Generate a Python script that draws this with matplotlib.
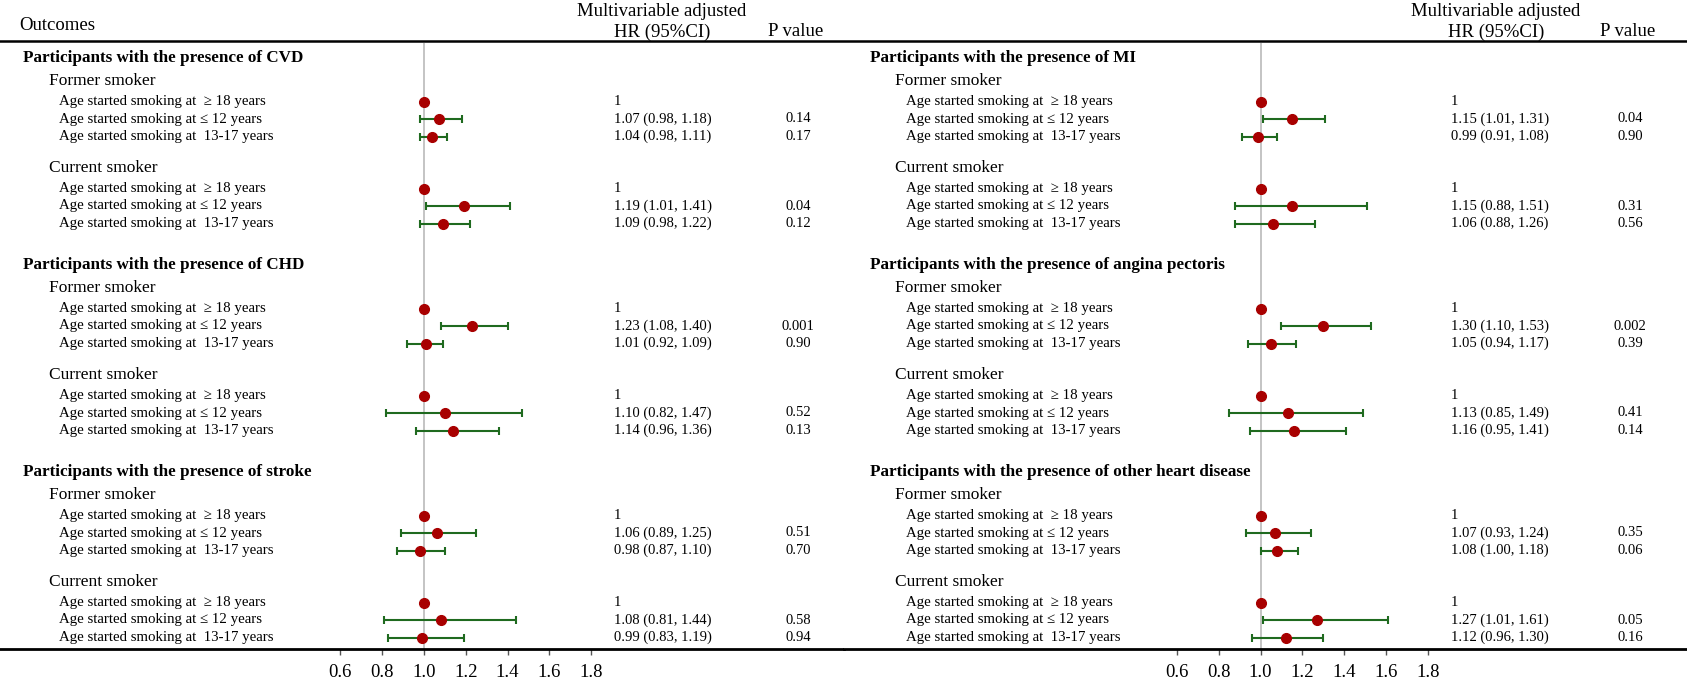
import matplotlib
matplotlib.use("Agg")
import matplotlib.pyplot as plt

plt.rcParams['font.family'] = ['Liberation Serif', 'DejaVu Serif']

# ---- data -------------------------------------------------------------
row_labels = ["Age started smoking at  \u2265 18 years",
              "Age started smoking at \u2264 12 years",
              "Age started smoking at  13-17 years"]
groups = ["Former smoker", "Current smoker"]

left_outcomes = ["CVD", "CHD", "stroke"]
left_hr = [1, 1.07, 1.04, 1, 1.19, 1.09,
           1, 1.23, 1.01, 1, 1.10, 1.14,
           1, 1.06, 0.98, 1, 1.08, 0.99]
left_lo = [None, 0.98, 0.98, None, 1.01, 0.98,
           None, 1.08, 0.92, None, 0.82, 0.96,
           None, 0.89, 0.87, None, 0.81, 0.83]
left_hi = [None, 1.18, 1.11, None, 1.41, 1.22,
           None, 1.40, 1.09, None, 1.47, 1.36,
           None, 1.25, 1.10, None, 1.44, 1.19]
left_p = ["", "0.14", "0.17", "", "0.04", "0.12",
          "", "0.001", "0.90", "", "0.52", "0.13",
          "", "0.51", "0.70", "", "0.58", "0.94"]

right_outcomes = ["MI", "angina pectoris", "other heart disease"]
right_hr = [1, 1.15, 0.99, 1, 1.15, 1.06,
            1, 1.30, 1.05, 1, 1.13, 1.16,
            1, 1.07, 1.08, 1, 1.27, 1.12]
right_lo = [None, 1.01, 0.91, None, 0.88, 0.88,
            None, 1.10, 0.94, None, 0.85, 0.95,
            None, 0.93, 1.00, None, 1.01, 0.96]
right_hi = [None, 1.31, 1.08, None, 1.51, 1.26,
            None, 1.53, 1.17, None, 1.49, 1.41,
            None, 1.24, 1.18, None, 1.61, 1.30]
right_p = ["", "0.04", "0.90", "", "0.31", "0.56",
           "", "0.002", "0.39", "", "0.41", "0.14",
           "", "0.35", "0.06", "", "0.05", "0.16"]

xticks = [0.6, 0.8, 1.0, 1.2, 1.4, 1.6, 1.8]

# ---- layout (pixels) --------------------------------------------------
W, H = 1687, 686
axis_y = 649
px_per_unit = 209
steps = [23, 20.5, 17.5, 17.5, 31.5, 20.5, 17.5, 17.5, 41.5]

panels = [
    dict(x0=0, x1=843.5, ref=424, head=23, grp=49, row=59, hr=614, p=798,
         mv=662, outcomes=left_outcomes, est=left_hr, lo=left_lo, hi=left_hi,
         pv=left_p, title="Outcomes"),
    dict(x0=843.5, x1=1687, ref=1260.5, head=870, grp=895, row=906, hr=1451, p=1630,
         mv=1496, outcomes=right_outcomes, est=right_hr, lo=right_lo, hi=right_hi,
         pv=right_p, title=None),
]

red = "#a80000"
green = "#1f6a1f"

fig = plt.figure(figsize=(W / 100, H / 100), dpi=100)

for pn in panels:
    ax = fig.add_axes([pn["x0"] / W, (H - axis_y) / H,
                       (pn["x1"] - pn["x0"]) / W, axis_y / H])

    def to_x(px, ref=pn["ref"]):
        return 1 + (px - ref) / px_per_unit

    ax.set_xlim(to_x(pn["x0"]), to_x(pn["x1"]))
    ax.set_ylim(axis_y, 0)
    for s in ["top", "left", "right"]:
        ax.spines[s].set_visible(False)
    ax.spines["bottom"].set_linewidth(2)
    ax.set_yticks([])
    ax.set_xticks(xticks)
    ax.set_xticklabels([f"{t:.1f}" for t in xticks], fontsize=13.5)
    ax.tick_params(axis="x", length=4, width=1, color="#555555", pad=7)

    # header
    ax.axhline(41, color="black", lw=1.8)
    if pn["title"]:
        ax.text(to_x(19), 25, pn["title"], fontsize=13.5, va="center", ha="left")
    ax.text(to_x(pn["mv"]), 11, "Multivariable adjusted", fontsize=13.5,
            va="center", ha="center")
    ax.text(to_x(pn["mv"]), 32, "HR (95%CI)", fontsize=13.5, va="center", ha="center")
    ax.text(to_x(pn["p"] - 2), 32, "P value", fontsize=13.5, va="center", ha="center")

    # reference line
    ax.vlines(1, 43, axis_y, color="#c4c4c4", lw=1.4, zorder=1)

    y = 58
    k = 0
    for outcome in pn["outcomes"]:
        ax.text(to_x(pn["head"]), y, f"Participants with the presence of {outcome}",
                fontsize=12.3, fontweight="bold", va="center", ha="left")
        si = 0
        for g in groups:
            y += steps[si]; si += 1
            ax.text(to_x(pn["grp"]), y, g, fontsize=12.5, va="center", ha="left")
            for r, lab in enumerate(row_labels):
                y += steps[si]; si += 1
                ax.text(to_x(pn["row"]), y, lab, fontsize=10.7, va="center", ha="left")
                est, lo, hi = pn["est"][k], pn["lo"][k], pn["hi"][k]
                if lo is None:
                    ax.text(to_x(pn["hr"]), y, "1", fontsize=10.5, va="center", ha="left")
                    ax.plot(est, y, "o", color=red, ms=7, zorder=3)
                else:
                    ax.errorbar(est, y, xerr=[[est - lo], [hi - est]], fmt="none",
                                ecolor=green, elinewidth=1.5, capsize=3.2,
                                capthick=1.5, zorder=2)
                    ax.plot(est, y, "o", color=red, ms=7, zorder=3)
                    ax.text(to_x(pn["hr"]), y, f"{est:.2f} ({lo:.2f}, {hi:.2f})",
                            fontsize=10.5, va="center", ha="left")
                    ax.text(to_x(pn["p"]), y, pn["pv"][k], fontsize=10.5,
                            va="center", ha="center")
                k += 1
        y += steps[si]

fig.savefig("out.png", dpi=100)
